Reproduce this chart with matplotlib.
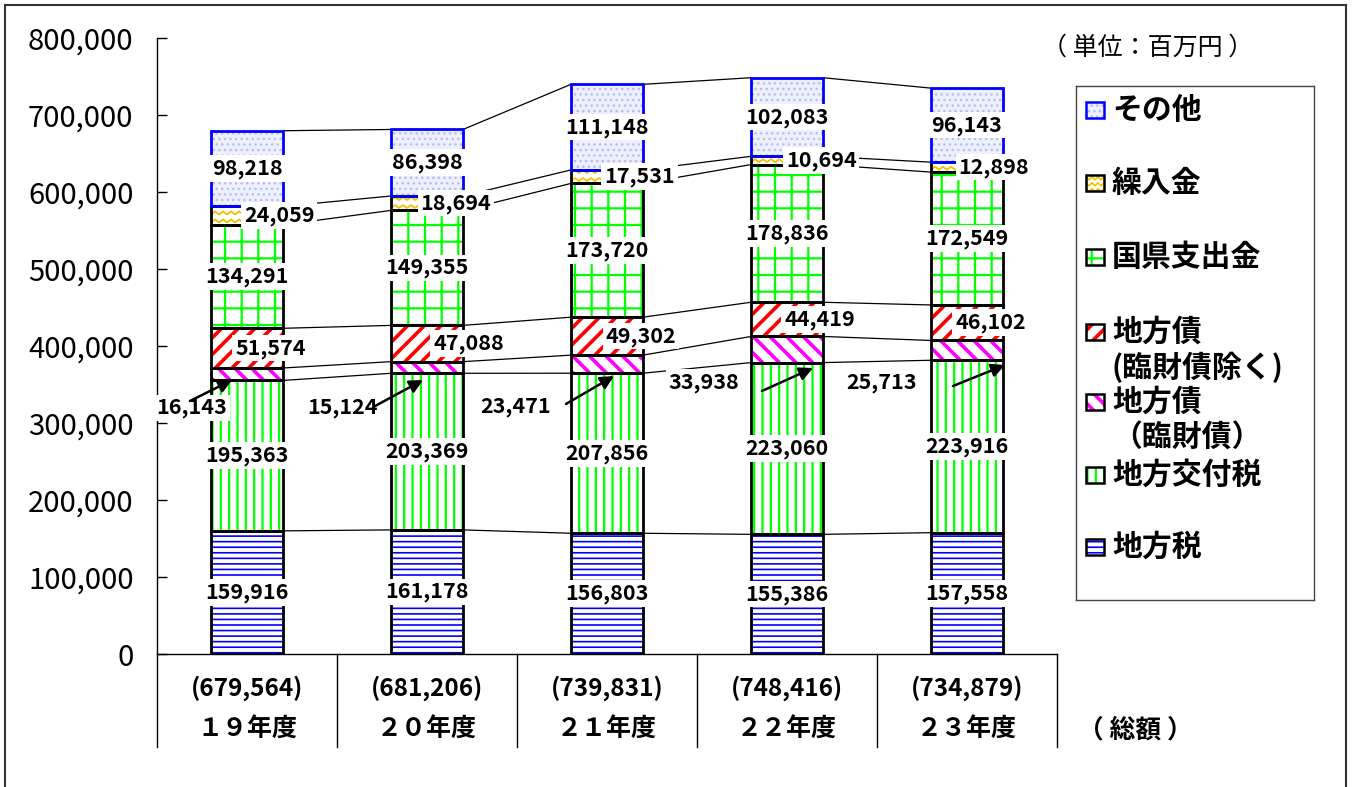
import matplotlib
matplotlib.use('Agg')
import matplotlib.pyplot as plt
import numpy as np
from matplotlib.patches import Rectangle
from matplotlib.lines import Line2D
import matplotlib.transforms as mtrans

plt.rcParams['font.family'] = ['Noto Sans CJK JP', 'DejaVu Sans']

# data (百万円)
years = ['１９年度', '２０年度', '２１年度', '２２年度', '２３年度']
chihouzei = [159916, 161178, 156803, 155386, 157558]   # 地方税
koufuzei = [195363, 203369, 207856, 223060, 223916]    # 地方交付税
rinzaisai = [16143, 15124, 23471, 33938, 25713]        # 地方債（臨財債）
chihousai = [51574, 47088, 49302, 44419, 46102]        # 地方債（臨財債除く）
kokken = [134291, 149355, 173720, 178836, 172549]      # 国県支出金
kuriire = [24059, 18694, 17531, 10694, 12898]          # 繰入金
sonota = [98218, 86398, 111148, 102083, 96143]         # その他
names = ['地方税', '地方交付税', '地方債\n（臨財債）', '地方債\n(臨財債除く)',
         '国県支出金', '繰入金', 'その他']

series = [chihouzei, koufuzei, rinzaisai, chihousai, kokken, kuriire, sonota]

# styles: face, hatch colour, hatch, hatch lw, edge colour
styles = [
    ('white', '#0000ff', '---', 1.2, 'black'),
    ('white', '#00ff00', '||', 1.6, 'black'),
    ('white', '#ff00ff', '\\\\', 2.6, 'black'),
    ('white', '#ff0000', '//', 2.6, 'black'),
    ('white', '#00ff00', '+', 1.6, 'black'),
    ('white', None, None, 1.0, 'black'),
    ('#eef0ff', '#b4bcf0', '...', 1.0, '#0000ff'),
]

# label layout
chihousai_dx = [0.13, 0.23, 0.19, 0.18, 0.13]
kuriire_dx = [0.18, 0.16, 0.18, 0.19, 0.15]
rin_lab = [(-0.306, 319500), (-0.467, 319500), (-0.506, 322000), (-0.461, 353000), (-0.472, 353000)]
rin_tail = [(-0.317, 328600), (-0.289, 322000), (-0.228, 324700), (-0.139, 341600), (-0.078, 348000)]
rin_tip = [(-0.083, 355800), (-0.022, 355800), (0.039, 361000), (0.144, 371400), (0.211, 375300)]

W, H = 1354, 787
fig = plt.figure(figsize=(W / 100, H / 100), dpi=100)
ax = fig.add_axes([157 / W, 1 - 654 / H, 900 / W, 616 / H])

x = np.arange(len(years))
bw = 0.4


def set_hlw(p, w):
    if hasattr(p, 'set_hatch_linewidth'):
        p.set_hatch_linewidth(w)


def zigzag(a, x0, x1, y0, y1, half, amp, gap, color, lw=1.3, z=2.5):
    clip = Rectangle((x0, y0), x1 - x0, y1 - y0, transform=a.transData)
    n = int(abs(x1 - x0) / half) + 2
    xs = x0 + half * np.arange(n)
    yb = y0 + gap * 0.3
    while (yb - y1) * np.sign(y1 - y0) < 0:
        ln, = a.plot(xs, yb + amp * (np.arange(n) % 2), color=color, lw=lw, zorder=z)
        ln.set_clip_path(clip)
        yb += gap


bottom = np.zeros(len(years))
levels = []
for k, vals in enumerate(series):
    face, hc, hatch, hlw, ec = styles[k]
    vals = np.array(vals)
    if hatch:
        bars = ax.bar(x, vals, bw, bottom=bottom, color=face, edgecolor=hc,
                      hatch=hatch, linewidth=0, zorder=2)
        for p in bars:
            set_hlw(p, hlw)
    else:
        ax.bar(x, vals, bw, bottom=bottom, color=face, linewidth=0, zorder=2)
        for i in range(len(x)):
            zigzag(ax, x[i] - bw / 2, x[i] + bw / 2, bottom[i], bottom[i] + vals[i],
                   4 / 180, 3 * 1298.7, 8 * 1298.7, '#f5c000')
    ax.bar(x, vals, bw, bottom=bottom, fill=False, edgecolor=ec, linewidth=2, zorder=3)
    bottom = bottom + vals
    levels.append(bottom.copy())

totals = bottom

# connecting lines
for lev in levels:
    for i in range(len(x) - 1):
        ax.plot([x[i] + bw / 2, x[i + 1] - bw / 2], [lev[i], lev[i + 1]],
                color='black', lw=0.9, zorder=1.5)


def lab(xx, yy, s):
    ax.text(xx, yy, s, ha='center', va='center', fontsize=15.5, fontweight='bold',
            bbox=dict(facecolor='white', edgecolor='none', pad=2), zorder=6)


base = np.zeros(len(years))
for k, vals in enumerate(series):
    for i, v in enumerate(vals):
        s = f'{v:,}'
        yc = base[i] + v / 2
        if k == 2:
            dx, ly = rin_lab[i]
            lab(x[i] + dx, ly, s)
            ax.annotate('', xy=(x[i] + rin_tip[i][0], rin_tip[i][1]),
                        xytext=(x[i] + rin_tail[i][0], rin_tail[i][1]),
                        arrowprops=dict(arrowstyle='-|>', color='black', lw=1.8,
                                        mutation_scale=20, shrinkA=0, shrinkB=0),
                        zorder=7)
        elif k == 3:
            lab(x[i] + chihousai_dx[i], yc, s)
        elif k == 5:
            lab(x[i] + kuriire_dx[i], yc, s)
        else:
            lab(x[i], yc, s)
    base = base + np.array(vals)

ax.set_xlim(-0.5, 4.5)
ax.set_ylim(0, 800000)
ax.set_yticks(np.arange(0, 800001, 100000))
ax.set_yticklabels([f'{v:,}' for v in range(0, 800001, 100000)])
ax.tick_params(axis='y', direction='in', length=7, width=1, pad=17, labelsize=21)
ax.set_xticks([])
ax.spines['top'].set_visible(False)
ax.spines['right'].set_visible(False)
for sp in ['left', 'bottom']:
    ax.spines[sp].set_linewidth(1)

# category table under the axis
trans = mtrans.blended_transform_factory(ax.transData, ax.transAxes)
for xb in np.arange(-0.5, 5.0, 1.0):
    ax.plot([xb, xb], [0, -0.151], color='black', lw=1, transform=trans, clip_on=False)
for i in range(len(years)):
    ax.text(x[i], -0.055, f'({int(totals[i]):,})', transform=trans, ha='center', va='center',
            fontsize=17.5, fontweight='bold')
    ax.text(x[i], -0.123, years[i], transform=trans, ha='center', va='center',
            fontsize=18, fontweight='bold')
ax.text(4.933, -0.123, '（ 総額 ）', transform=trans, ha='center', va='center',
        fontsize=18.5, fontweight='bold')

fig.text(1148 / W, 1 - 48 / H, '（ 単位：百万円 ）', ha='center', va='center', fontsize=18)

# legend drawn by hand
lax = fig.add_axes([1076 / W, 1 - 600 / H, 238 / W, 514 / H])
lax.set_xlim(1076, 1314)
lax.set_ylim(600, 86)
lax.set_xticks([])
lax.set_yticks([])
for sp in lax.spines.values():
    sp.set_color('#444444')
    sp.set_linewidth(1)
leg_y = [547, 475, 402, 332, 257, 183, 110]
for k, nm in enumerate(names):
    face, hc, hatch, hlw, ec = styles[k]
    yy = leg_y[k]
    if hatch:
        p = Rectangle((1086, yy - 8), 18, 16, facecolor=face, edgecolor=hc, hatch=hatch, lw=0)
        lax.add_patch(p)
        set_hlw(p, hlw)
    else:
        lax.add_patch(Rectangle((1086, yy - 8), 18, 16, facecolor=face, lw=0))
        zigzag(lax, 1086, 1104, yy - 8, yy + 8, 3, 3, 6, '#f5c000', lw=1.2)
    lax.add_patch(Rectangle((1086, yy - 8), 18, 16, fill=False, edgecolor=ec, lw=1.8, zorder=3))
    for j, line in enumerate(nm.split('\n')):
        lax.text(1112, yy + 35 * j, line, ha='left', va='center', fontsize=21.5,
                 fontweight='bold')

# outer frame
for xs, ys in [([5, 5], [0, H - 5]), ([5, 1346], [H - 5, H - 5]), ([1346, 1346], [H - 5, 0])]:
    fig.add_artist(Line2D(np.array(xs) / W, np.array(ys) / H, color='#333333', lw=1.5))

fig.savefig('out.png', dpi=100)
